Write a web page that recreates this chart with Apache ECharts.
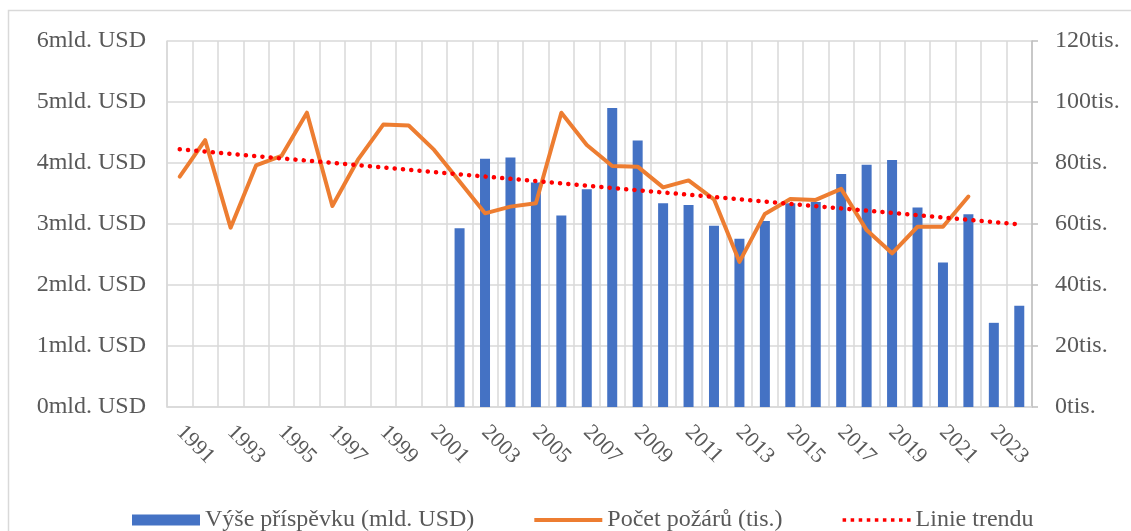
<!DOCTYPE html>
<html>
<head>
<meta charset="utf-8">
<script src="https://cdn.jsdelivr.net/npm/echarts@6/dist/echarts.min.js"></script>
<style>
  html, body { margin: 0; padding: 0; background: #fff; }
  #chart { width: 1131px; height: 531px; }
</style>
</head>
<body>
<div id="chart"></div>
<script>
// -- Data --
const years = [];
for (let y = 1991; y <= 2024; y++) years.push(String(y));

// Výše příspěvku (mld. USD), 1991–2001 empty
const contribution = [
  null, null, null, null, null, null, null, null, null, null, null,
  2.93, 4.07, 4.09, 3.68, 3.14, 3.57, 4.90, 4.37, 3.34, 3.31,
  2.97, 2.76, 3.05, 3.34, 3.36, 3.82, 3.97, 4.05, 3.27, 2.37,
  3.16, 1.38, 1.66
];

// Počet požárů (tis.), no data for 2023–2024
const fires = [
  75.5, 87.5, 58.8, 79.2, 82.3, 96.5, 65.9, 81.0, 92.6, 92.3,
  84.3, 73.9, 63.5, 65.7, 66.8, 96.5, 85.9, 79.0, 78.8, 72.0,
  74.3, 68.1, 47.6, 63.3, 68.2, 67.9, 71.5, 58.0, 50.4, 59.1,
  59.1, 69.0, null, null
];

// Linie trendu – endpoints as drawn
const trendStart = 84.5;
const trendEnd = 59.9;
const trend = years.map((_, i) => i === 0 ? trendStart : (i === years.length - 1 ? trendEnd : null));

const leftTicks = '{value}mld. USD';
const rightTicks = '{value}tis.';

// -- Styling --
const FONT = '"Liberation Serif", "Times New Roman", serif';
const TEXT = '#595959';
const GRID = '#d9d9d9';

// legend icons: solid bar, thick line, row of dots
const ICON_LINE = 'path://M0,0h68v4h-68z';
let dots = '';
for (let i = 0; i < 9; i++) dots += 'M' + (i * 8.2) + ',0h3.6v3.6h-3.6z';
const ICON_DOTS = 'path://' + dots;

const chart = echarts.init(document.getElementById('chart'), null, { renderer: 'canvas' });

chart.setOption({
  animation: false,
  textStyle: { fontFamily: FONT },
  graphic: [{
    type: 'rect',
    shape: { x: 8.5, y: 10.5, width: 1140, height: 540 },
    style: { fill: 'none', stroke: GRID, lineWidth: 1.5 },
    silent: true
  }],
  grid: { left: 167, right: 99, top: 41, bottom: 124 },
  legend: {
    left: 127,
    top: 503,
    itemWidth: 68,
    itemHeight: 11,
    itemGap: 60,
    symbolKeepAspect: true,
    textStyle: { fontFamily: FONT, fontSize: 24, color: TEXT },
    data: [
      { name: 'Výše příspěvku (mld. USD)', icon: 'rect' },
      { name: 'Počet požárů (tis.)', icon: ICON_LINE },
      { name: 'Linie trendu', icon: ICON_DOTS }
    ]
  },
  xAxis: {
    type: 'category',
    data: years,
    boundaryGap: true,
    axisLine: { lineStyle: { color: GRID, width: 1.5 } },
    axisTick: { show: false },
    splitLine: { show: true, interval: 0, lineStyle: { color: GRID, width: 1.5 } },
    axisLabel: {
      interval: 1,
      rotate: -45,
      margin: 22,
      fontFamily: FONT,
      fontSize: 22,
      color: TEXT
    }
  },
  yAxis: [{
    type: 'value',
    min: 0, max: 6, interval: 1,
    axisLine: { show: true, lineStyle: { color: GRID, width: 1.5 } },
    axisTick: { show: false },
    splitLine: { lineStyle: { color: GRID, width: 1.5 } },
    axisLabel: { formatter: leftTicks, margin: 21, fontFamily: FONT, fontSize: 24, color: TEXT }
  }, {
    type: 'value',
    min: 0, max: 120, interval: 20,
    position: 'right',
    axisLine: { show: true, lineStyle: { color: '#bfbfbf', width: 1.5 } },
    axisTick: { show: true, length: 6, lineStyle: { color: '#bfbfbf', width: 1.5 } },
    splitLine: { show: false },
    axisLabel: { formatter: rightTicks, margin: 23, fontFamily: FONT, fontSize: 24, color: TEXT }
  }],
  series: [{
    name: 'Výše příspěvku (mld. USD)',
    type: 'bar',
    yAxisIndex: 0,
    barWidth: 10,
    itemStyle: { color: '#4472C4' },
    data: contribution
  }, {
    name: 'Počet požárů (tis.)',
    type: 'line',
    yAxisIndex: 1,
    symbol: 'none',
    lineStyle: { color: '#ED7D31', width: 4, join: 'round', cap: 'round' },
    itemStyle: { color: '#ED7D31' },
    data: fires
  }, {
    name: 'Linie trendu',
    type: 'line',
    yAxisIndex: 1,
    symbol: 'none',
    connectNulls: true,
    lineStyle: { color: '#FF0000', width: 4.5, type: [0.1, 8.2], cap: 'round' },
    itemStyle: { color: '#FF0000' },
    data: trend
  }]
});
</script>
</body>
</html>
